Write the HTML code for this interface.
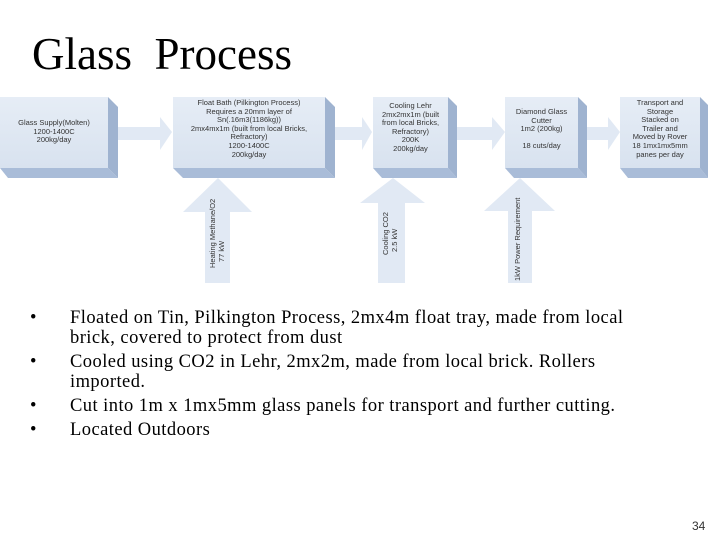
<!DOCTYPE html>
<html><head><style>
body{margin:0;width:720px;height:540px;background:#fff;position:relative;overflow:hidden;font-family:"Liberation Sans",sans-serif}
.t{position:absolute;font-family:"Liberation Serif",serif}
.bx{position:absolute;font-size:7.5px;line-height:8.6px;text-align:center;color:#333;display:flex;align-items:center;justify-content:center}
ul{position:absolute;left:30px;top:308px;margin:0;padding:0;list-style:none;font-family:"Liberation Serif",serif;font-size:18.5px;letter-spacing:0.45px;line-height:20px;color:#000;width:612px}
li{position:relative;padding-left:40px;margin-bottom:4px}
li:before{content:"•";position:absolute;left:0}
</style></head><body>
<div class="t" style="left:32px;top:28px;font-size:45px;">Glass&nbsp; Process</div>
<svg width="720" height="300" style="position:absolute;left:0;top:0">
<defs><linearGradient id="g" x1="0" y1="0" x2="0" y2="1"><stop offset="0" stop-color="#e6edf6"/><stop offset="1" stop-color="#d8e2ef"/></linearGradient></defs>
<g fill="#e1e9f4">
<polygon points="118,127 160,127 160,117 172,132 160,150 160,140 118,140"/>
<polygon points="335,127 362,127 362,117 372,132 362,150 362,140 335,140"/>
<polygon points="457,127 492,127 492,117 505,132 492,150 492,140 457,140"/>
<polygon points="587,127 608,127 608,117 620,132 608,150 608,140 587,140"/>
<polygon points="218,178 252,212 230,212 230,283 205,283 205,212 183,212"/>
<polygon points="393,178 425,203 405,203 405,283 378,283 378,203 360,203"/>
<polygon points="520,178 555,211 532,211 532,283 508,283 508,211 484,211"/>
</g>
<g>
<polygon points="0,168 108,168 118,178 8,178" fill="#a9bcd8"/><polygon points="108,97 118,107 118,178 108,168" fill="#9fb3d0"/><rect x="0" y="97" width="108" height="71" fill="url(#g)"/>
<polygon points="173,168 325,168 335,178 183,178" fill="#a9bcd8"/><polygon points="325,97 335,107 335,178 325,168" fill="#9fb3d0"/><rect x="173" y="97" width="152" height="71" fill="url(#g)"/>
<polygon points="373,168 448,168 457,178 382,178" fill="#a9bcd8"/><polygon points="448,97 457,106 457,178 448,168" fill="#9fb3d0"/><rect x="373" y="97" width="75" height="71" fill="url(#g)"/>
<polygon points="505,168 578,168 587,178 514,178" fill="#a9bcd8"/><polygon points="578,97 587,106 587,178 578,168" fill="#9fb3d0"/><rect x="505" y="97" width="73" height="71" fill="url(#g)"/>
<polygon points="620,168 700,168 708,178 628,178" fill="#a9bcd8"/><polygon points="700,97 708,105 708,178 700,168" fill="#9fb3d0"/><rect x="620" y="97" width="80" height="71" fill="url(#g)"/>
</g>
<g font-size="7.5" fill="#333" font-family="Liberation Sans, sans-serif">
<text transform="translate(215,268) rotate(-90)">Heating Methane/O2</text>
<text transform="translate(224,262) rotate(-90)">77 kW</text>
<text transform="translate(388,255) rotate(-90)">Cooling CO2</text>
<text transform="translate(397,252) rotate(-90)">2.5 kW</text>
<text transform="translate(520,281) rotate(-90)">1kW Power Requirement</text>
</g>
</svg>
<div class="bx" style="left:0;top:97px;width:108px;height:71px;align-items:flex-start;padding-top:22px;box-sizing:border-box">Glass Supply(Molten)<br>1200-1400C<br>200kg/day</div>
<div class="bx" style="left:173px;top:97px;width:152px;height:71px;align-items:flex-start;padding-top:2px;box-sizing:border-box">Float Bath (Pilkington Process)<br>Requires a 20mm layer of<br>Sn(.16m3(1186kg))<br>2mx4mx1m (built from local Bricks,<br>Refractory)<br>1200-1400C<br>200kg/day</div>
<div class="bx" style="left:373px;top:97px;width:75px;height:71px;align-items:flex-start;padding-top:5px;box-sizing:border-box">Cooling Lehr<br>2mx2mx1m (built<br>from local Bricks,<br>Refractory)<br>200K<br>200kg/day</div>
<div class="bx" style="left:505px;top:97px;width:73px;height:71px;align-items:flex-start;padding-top:11px;box-sizing:border-box">Diamond Glass<br>Cutter<br>1m2 (200kg)<br><br>18 cuts/day</div>
<div class="bx" style="left:620px;top:97px;width:80px;height:71px;align-items:flex-start;padding-top:2px;box-sizing:border-box">Transport and<br>Storage<br>Stacked on<br>Trailer and<br>Moved by Rover<br>18 1mx1mx5mm<br>panes per day</div>
<ul>
<li>Floated on Tin, Pilkington Process, 2mx4m float tray, made from local brick, covered to protect from dust</li>
<li>Cooled using CO2 in Lehr, 2mx2m, made from local brick. Rollers imported.</li>
<li>Cut into 1m x 1mx5mm glass panels for transport and further cutting.</li>
<li>Located Outdoors</li>
</ul>
<div style="position:absolute;left:692px;top:519px;font-size:12px;color:#333">34</div>
</body></html>
